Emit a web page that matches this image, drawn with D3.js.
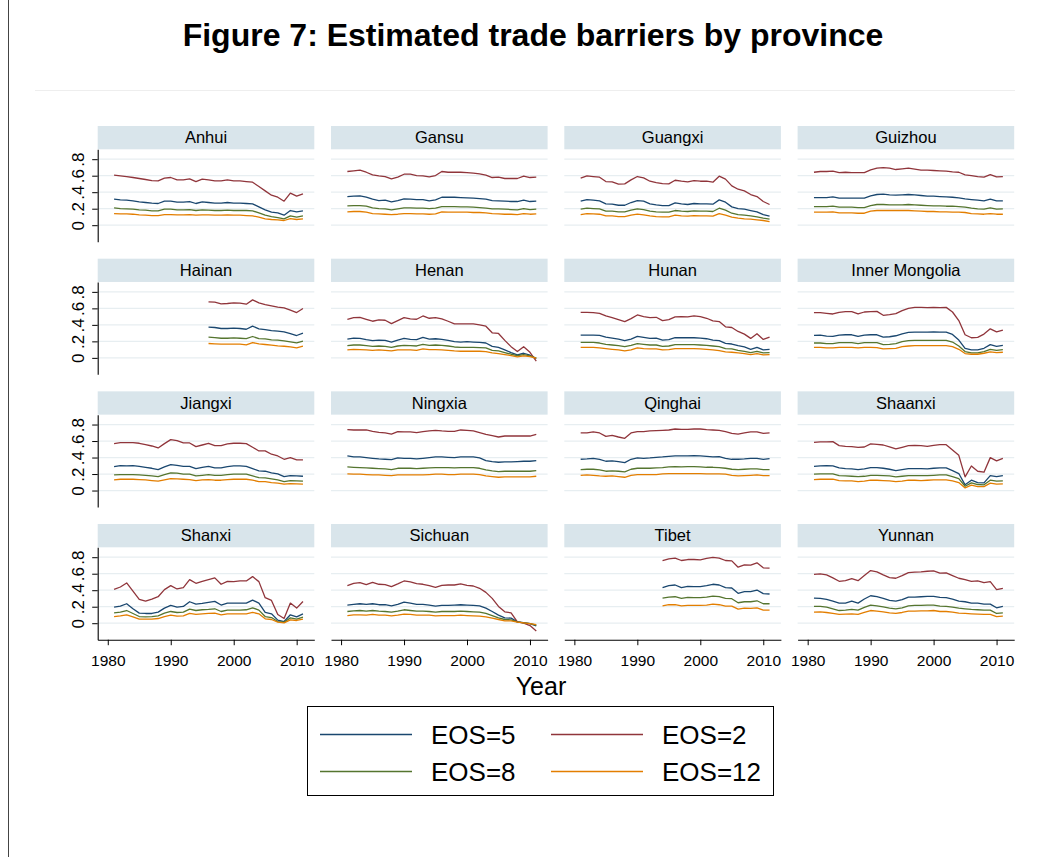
<!DOCTYPE html>
<html>
<head>
<meta charset="utf-8">
<script src="https://cdn.jsdelivr.net/npm/d3@7/dist/d3.min.js"></script>
<style>
  body { margin: 0; background: #fff; }
  svg { display: block; }
  text { font-family: Arial, "Liberation Sans", Helvetica, sans-serif; fill: #000; }
</style>
</head>
<body>
<svg id="chart" width="1049" height="857"></svg>
<script>
// ---- data -------------------------------------------------------------
const years = [1981,1982,1983,1984,1985,1986,1987,1988,1989,1990,1991,1992,1993,1994,1995,1996,
               1997,1998,1999,2000,2001,2002,2003,2004,2005,2006,2007,2008,2009,2010,2011];
const provinces = ["Anhui","Gansu","Guangxi","Guizhou","Hainan","Henan","Hunan","Inner Mongolia",
                   "Jiangxi","Ningxia","Qinghai","Shaanxi","Shanxi","Sichuan","Tibet","Yunnan"];
const seriesLabels = ["EOS=5","EOS=2","EOS=8","EOS=12"];
const xTickValues = [1980,1990,2000,2010];
const yTickValues = [0,0.2,0.4,0.6,0.8];
const yTickLabels = ["0",".2",".4",".6",".8"];

const anhuiEOS2  = [0.606,0.598,0.590,0.578,0.566,0.554,0.541,0.537,0.570,0.578,0.549,0.549,0.562,0.529,0.558,0.549,0.537,0.537,0.549,0.537,0.537,0.529,0.521,0.469,0.416,0.364,0.339,0.291,0.388,0.352,0.380];
const anhuiEOS5  = [0.315,0.307,0.303,0.295,0.283,0.275,0.267,0.263,0.291,0.291,0.279,0.279,0.287,0.263,0.283,0.275,0.267,0.267,0.275,0.267,0.267,0.263,0.259,0.222,0.186,0.158,0.149,0.121,0.178,0.162,0.174];
const anhuiEOS8  = [0.210,0.202,0.198,0.194,0.186,0.182,0.174,0.174,0.194,0.194,0.186,0.186,0.190,0.178,0.186,0.182,0.178,0.178,0.182,0.178,0.178,0.178,0.174,0.149,0.121,0.105,0.093,0.077,0.113,0.097,0.113];
const anhuiEOS12 = [0.141,0.137,0.137,0.133,0.125,0.121,0.117,0.117,0.129,0.129,0.125,0.125,0.129,0.121,0.125,0.125,0.121,0.121,0.125,0.121,0.121,0.117,0.113,0.097,0.077,0.069,0.065,0.057,0.081,0.069,0.077];

const gansuEOS2  = [0.651,0.659,0.667,0.642,0.610,0.598,0.590,0.562,0.582,0.618,0.618,0.602,0.598,0.586,0.602,0.651,0.642,0.642,0.642,0.638,0.630,0.622,0.606,0.578,0.582,0.566,0.566,0.566,0.594,0.578,0.582];
const gansuEOS5  = [0.347,0.352,0.356,0.339,0.315,0.299,0.303,0.283,0.299,0.319,0.315,0.311,0.311,0.295,0.307,0.339,0.339,0.339,0.335,0.331,0.327,0.323,0.315,0.299,0.295,0.291,0.287,0.287,0.303,0.287,0.291];
const gansuEOS8  = [0.234,0.238,0.238,0.230,0.210,0.202,0.198,0.186,0.198,0.210,0.210,0.206,0.206,0.202,0.206,0.226,0.226,0.226,0.222,0.222,0.218,0.214,0.206,0.198,0.198,0.194,0.190,0.186,0.202,0.190,0.194];
const gansuEOS12 = [0.162,0.166,0.166,0.158,0.141,0.137,0.133,0.129,0.133,0.141,0.141,0.137,0.137,0.133,0.137,0.162,0.158,0.158,0.158,0.158,0.154,0.154,0.149,0.141,0.137,0.133,0.133,0.129,0.141,0.133,0.137];

const guangxiEOS2  = [0.570,0.598,0.590,0.582,0.529,0.525,0.497,0.501,0.549,0.590,0.574,0.533,0.517,0.505,0.501,0.545,0.533,0.525,0.541,0.533,0.533,0.521,0.594,0.558,0.477,0.436,0.416,0.372,0.347,0.287,0.251];
const guangxiEOS5  = [0.291,0.311,0.303,0.295,0.259,0.255,0.242,0.242,0.275,0.299,0.291,0.259,0.246,0.238,0.238,0.271,0.259,0.251,0.263,0.259,0.259,0.255,0.307,0.279,0.222,0.202,0.194,0.178,0.162,0.129,0.109];
const guangxiEOS8  = [0.194,0.206,0.202,0.198,0.170,0.170,0.162,0.162,0.182,0.198,0.190,0.170,0.162,0.158,0.158,0.178,0.170,0.166,0.174,0.170,0.170,0.166,0.206,0.182,0.145,0.129,0.121,0.113,0.101,0.085,0.073];
const guangxiEOS12 = [0.129,0.141,0.137,0.133,0.113,0.113,0.105,0.105,0.121,0.133,0.125,0.113,0.105,0.101,0.101,0.121,0.113,0.109,0.117,0.113,0.113,0.109,0.141,0.121,0.097,0.085,0.077,0.073,0.065,0.057,0.044];

const guizhouEOS2  = [0.642,0.651,0.651,0.655,0.638,0.642,0.638,0.638,0.638,0.671,0.691,0.699,0.691,0.675,0.683,0.691,0.679,0.667,0.667,0.663,0.659,0.655,0.646,0.642,0.610,0.602,0.590,0.582,0.614,0.586,0.590];
const guizhouEOS5  = [0.335,0.335,0.335,0.343,0.327,0.327,0.327,0.327,0.327,0.356,0.372,0.376,0.368,0.364,0.368,0.372,0.368,0.360,0.352,0.352,0.347,0.343,0.339,0.331,0.320,0.311,0.303,0.295,0.315,0.295,0.295];
const guizhouEOS8  = [0.226,0.226,0.226,0.230,0.218,0.218,0.218,0.214,0.214,0.238,0.251,0.251,0.246,0.246,0.246,0.251,0.246,0.242,0.238,0.234,0.234,0.230,0.230,0.226,0.218,0.206,0.198,0.194,0.210,0.194,0.198];
const guizhouEOS12 = [0.158,0.158,0.158,0.162,0.149,0.149,0.149,0.145,0.145,0.170,0.178,0.178,0.178,0.178,0.178,0.178,0.174,0.170,0.166,0.166,0.162,0.162,0.158,0.158,0.154,0.141,0.137,0.133,0.141,0.133,0.133];

const hainanEOS2  = [null,null,null,null,null,null,null,null,null,null,null,null,null,null,null,0.679,0.675,0.655,0.659,0.667,0.663,0.651,0.703,0.667,0.646,0.630,0.614,0.606,0.578,0.549,0.598];
const hainanEOS5  = [null,null,null,null,null,null,null,null,null,null,null,null,null,null,null,0.372,0.368,0.356,0.356,0.360,0.356,0.347,0.384,0.352,0.343,0.331,0.323,0.315,0.295,0.271,0.299];
const hainanEOS8  = [null,null,null,null,null,null,null,null,null,null,null,null,null,null,null,0.251,0.246,0.238,0.238,0.242,0.238,0.234,0.259,0.234,0.230,0.218,0.214,0.206,0.194,0.182,0.202];
const hainanEOS12 = [null,null,null,null,null,null,null,null,null,null,null,null,null,null,null,0.174,0.170,0.166,0.166,0.166,0.166,0.158,0.186,0.170,0.162,0.154,0.145,0.141,0.133,0.121,0.141];

const henanEOS2  = [0.468,0.488,0.492,0.468,0.444,0.460,0.456,0.416,0.452,0.488,0.472,0.468,0.508,0.480,0.488,0.472,0.444,0.412,0.412,0.412,0.412,0.400,0.384,0.304,0.296,0.212,0.136,0.076,0.136,0.068,-0.040];
const henanEOS5  = [0.228,0.240,0.236,0.220,0.208,0.216,0.212,0.192,0.216,0.236,0.224,0.220,0.248,0.228,0.232,0.224,0.212,0.196,0.192,0.196,0.192,0.188,0.180,0.140,0.128,0.096,0.064,0.036,0.056,0.032,-0.008];
const henanEOS8  = [0.148,0.156,0.156,0.148,0.140,0.144,0.140,0.128,0.144,0.152,0.148,0.144,0.164,0.152,0.156,0.152,0.144,0.132,0.128,0.128,0.128,0.124,0.120,0.092,0.084,0.064,0.044,0.028,0.040,0.024,-0.004];
const henanEOS12 = [0.096,0.104,0.100,0.096,0.092,0.096,0.092,0.084,0.096,0.096,0.096,0.092,0.108,0.100,0.100,0.096,0.092,0.084,0.080,0.080,0.080,0.080,0.076,0.060,0.052,0.040,0.028,0.012,0.024,0.016,-0.004];

const hunanEOS2  = [0.552,0.552,0.548,0.540,0.508,0.488,0.464,0.440,0.476,0.520,0.500,0.488,0.492,0.452,0.464,0.496,0.500,0.496,0.508,0.500,0.480,0.448,0.440,0.376,0.368,0.320,0.288,0.236,0.292,0.224,0.252];
const hunanEOS5  = [0.276,0.276,0.276,0.272,0.252,0.240,0.228,0.208,0.228,0.260,0.248,0.236,0.240,0.216,0.220,0.244,0.244,0.244,0.244,0.240,0.232,0.216,0.208,0.176,0.168,0.148,0.132,0.104,0.128,0.096,0.104];
const hunanEOS8  = [0.188,0.188,0.188,0.180,0.164,0.156,0.148,0.136,0.152,0.172,0.164,0.156,0.156,0.140,0.144,0.160,0.160,0.160,0.160,0.156,0.152,0.144,0.136,0.112,0.108,0.092,0.080,0.064,0.080,0.060,0.064];
const hunanEOS12 = [0.128,0.128,0.128,0.120,0.112,0.104,0.096,0.084,0.096,0.120,0.112,0.108,0.108,0.096,0.100,0.112,0.112,0.112,0.112,0.108,0.104,0.096,0.088,0.072,0.068,0.060,0.052,0.040,0.052,0.036,0.040];

const innerMongoliaEOS2  = [0.548,0.548,0.540,0.532,0.552,0.560,0.560,0.532,0.556,0.560,0.564,0.516,0.524,0.536,0.572,0.600,0.612,0.612,0.608,0.612,0.608,0.612,0.556,0.452,0.280,0.244,0.248,0.288,0.352,0.316,0.336];
const innerMongoliaEOS5  = [0.272,0.276,0.264,0.260,0.276,0.280,0.280,0.260,0.276,0.280,0.280,0.252,0.256,0.268,0.292,0.308,0.312,0.312,0.312,0.316,0.312,0.312,0.284,0.216,0.116,0.096,0.096,0.116,0.160,0.140,0.152];
const innerMongoliaEOS8  = [0.180,0.180,0.172,0.172,0.184,0.184,0.184,0.172,0.184,0.184,0.184,0.160,0.164,0.172,0.196,0.208,0.212,0.212,0.212,0.212,0.212,0.212,0.192,0.144,0.076,0.060,0.060,0.076,0.104,0.092,0.100];
const innerMongoliaEOS12 = [0.128,0.128,0.120,0.120,0.128,0.128,0.128,0.120,0.128,0.128,0.124,0.108,0.112,0.116,0.136,0.144,0.148,0.148,0.148,0.148,0.148,0.148,0.136,0.104,0.052,0.044,0.044,0.056,0.072,0.064,0.068];

const jiangxiEOS2  = [0.569,0.581,0.581,0.581,0.573,0.556,0.540,0.516,0.569,0.617,0.605,0.577,0.577,0.532,0.552,0.573,0.544,0.544,0.565,0.573,0.573,0.569,0.524,0.480,0.480,0.440,0.419,0.379,0.399,0.371,0.371];
const jiangxiEOS5  = [0.290,0.302,0.298,0.302,0.294,0.282,0.270,0.254,0.286,0.315,0.306,0.294,0.294,0.266,0.282,0.294,0.274,0.274,0.290,0.298,0.298,0.294,0.266,0.238,0.234,0.214,0.202,0.169,0.181,0.177,0.173];
const jiangxiEOS8  = [0.190,0.194,0.194,0.194,0.190,0.185,0.177,0.169,0.194,0.214,0.210,0.198,0.198,0.177,0.185,0.194,0.185,0.185,0.194,0.198,0.198,0.198,0.177,0.157,0.153,0.141,0.129,0.109,0.121,0.117,0.113];
const jiangxiEOS12 = [0.129,0.137,0.137,0.137,0.133,0.129,0.121,0.113,0.129,0.145,0.141,0.137,0.133,0.121,0.129,0.133,0.125,0.125,0.133,0.137,0.137,0.137,0.125,0.109,0.109,0.097,0.089,0.077,0.085,0.081,0.077];

const ningxiaEOS2  = [0.738,0.734,0.734,0.734,0.718,0.706,0.698,0.685,0.714,0.710,0.710,0.702,0.714,0.722,0.730,0.722,0.718,0.718,0.734,0.730,0.722,0.702,0.681,0.665,0.649,0.661,0.661,0.661,0.661,0.661,0.681];
const ningxiaEOS5  = [0.419,0.407,0.407,0.399,0.391,0.383,0.379,0.375,0.395,0.391,0.391,0.383,0.391,0.399,0.407,0.407,0.403,0.399,0.407,0.407,0.407,0.395,0.363,0.351,0.343,0.347,0.347,0.351,0.355,0.355,0.363];
const ningxiaEOS8  = [0.286,0.282,0.278,0.274,0.270,0.266,0.262,0.254,0.270,0.270,0.270,0.266,0.270,0.274,0.278,0.278,0.278,0.274,0.278,0.278,0.278,0.270,0.250,0.238,0.230,0.234,0.234,0.234,0.234,0.234,0.242];
const ningxiaEOS12 = [0.202,0.198,0.198,0.194,0.190,0.190,0.185,0.181,0.190,0.190,0.190,0.190,0.190,0.194,0.198,0.198,0.194,0.194,0.198,0.198,0.198,0.194,0.177,0.169,0.161,0.165,0.165,0.165,0.165,0.165,0.173];

const qinghaiEOS2  = [0.698,0.698,0.710,0.698,0.657,0.669,0.649,0.633,0.698,0.714,0.714,0.722,0.726,0.730,0.734,0.746,0.742,0.742,0.746,0.746,0.738,0.734,0.730,0.714,0.694,0.685,0.698,0.710,0.710,0.694,0.698];
const qinghaiEOS5  = [0.379,0.383,0.391,0.379,0.355,0.359,0.351,0.339,0.379,0.395,0.391,0.395,0.403,0.407,0.415,0.419,0.419,0.419,0.423,0.419,0.415,0.407,0.411,0.391,0.379,0.379,0.383,0.391,0.391,0.379,0.387];
const qinghaiEOS8  = [0.254,0.258,0.258,0.250,0.234,0.238,0.234,0.226,0.258,0.270,0.270,0.270,0.274,0.278,0.286,0.290,0.286,0.290,0.290,0.286,0.282,0.282,0.278,0.270,0.258,0.254,0.258,0.262,0.262,0.254,0.254];
const qinghaiEOS12 = [0.185,0.190,0.185,0.177,0.173,0.177,0.169,0.161,0.185,0.194,0.194,0.194,0.194,0.202,0.206,0.206,0.206,0.206,0.206,0.206,0.202,0.202,0.202,0.198,0.185,0.177,0.181,0.185,0.190,0.181,0.181];

const shaanxiEOS2  = [0.585,0.589,0.589,0.593,0.544,0.536,0.532,0.524,0.528,0.565,0.560,0.552,0.528,0.504,0.524,0.544,0.548,0.544,0.536,0.548,0.556,0.556,0.492,0.427,0.165,0.298,0.234,0.222,0.399,0.359,0.391];
const shaanxiEOS5  = [0.294,0.298,0.302,0.298,0.274,0.266,0.262,0.254,0.262,0.278,0.278,0.270,0.258,0.242,0.254,0.266,0.266,0.266,0.262,0.270,0.274,0.274,0.242,0.206,0.069,0.125,0.097,0.093,0.181,0.169,0.181];
const shaanxiEOS8  = [0.198,0.202,0.202,0.202,0.181,0.177,0.173,0.169,0.173,0.185,0.185,0.181,0.177,0.165,0.173,0.181,0.181,0.181,0.181,0.185,0.190,0.190,0.169,0.145,0.052,0.093,0.073,0.069,0.125,0.113,0.117];
const shaanxiEOS12 = [0.133,0.137,0.137,0.137,0.121,0.117,0.117,0.109,0.113,0.125,0.125,0.121,0.117,0.109,0.113,0.125,0.125,0.121,0.125,0.129,0.129,0.129,0.117,0.097,0.032,0.065,0.048,0.048,0.089,0.077,0.081];

const shanxiEOS2  = [0.410,0.439,0.488,0.390,0.289,0.268,0.293,0.321,0.407,0.455,0.415,0.431,0.528,0.484,0.508,0.528,0.549,0.472,0.508,0.504,0.512,0.512,0.565,0.504,0.309,0.276,0.106,0.057,0.244,0.183,0.264];
const shanxiEOS5  = [0.195,0.207,0.236,0.175,0.122,0.118,0.118,0.134,0.183,0.215,0.195,0.203,0.260,0.232,0.240,0.252,0.264,0.220,0.244,0.244,0.244,0.244,0.280,0.244,0.130,0.114,0.037,0.020,0.102,0.077,0.114];
const shanxiEOS8  = [0.126,0.134,0.154,0.118,0.081,0.077,0.081,0.089,0.122,0.142,0.130,0.134,0.171,0.154,0.163,0.167,0.175,0.142,0.159,0.159,0.159,0.163,0.187,0.159,0.081,0.069,0.020,0.012,0.065,0.049,0.073];
const shanxiEOS12 = [0.081,0.089,0.102,0.077,0.049,0.049,0.049,0.057,0.081,0.098,0.085,0.089,0.118,0.106,0.114,0.118,0.122,0.102,0.114,0.114,0.114,0.114,0.130,0.114,0.053,0.045,0.012,0.004,0.041,0.033,0.049];

const sichuanEOS2  = [0.455,0.484,0.492,0.467,0.496,0.472,0.467,0.443,0.476,0.512,0.500,0.480,0.472,0.455,0.435,0.459,0.463,0.463,0.476,0.459,0.451,0.423,0.374,0.301,0.203,0.138,0.126,0.016,0.000,-0.028,-0.093];
const sichuanEOS5  = [0.220,0.228,0.236,0.228,0.236,0.224,0.224,0.211,0.228,0.256,0.244,0.228,0.228,0.220,0.207,0.215,0.215,0.220,0.224,0.220,0.215,0.211,0.183,0.142,0.098,0.065,0.061,0.016,0.008,-0.004,-0.033];
const sichuanEOS8  = [0.142,0.150,0.154,0.146,0.154,0.146,0.142,0.134,0.146,0.163,0.154,0.146,0.146,0.142,0.134,0.142,0.142,0.142,0.146,0.142,0.138,0.134,0.118,0.093,0.065,0.045,0.041,0.016,0.004,-0.004,-0.024];
const sichuanEOS12 = [0.093,0.102,0.102,0.098,0.106,0.098,0.098,0.089,0.098,0.110,0.106,0.098,0.098,0.098,0.089,0.093,0.093,0.093,0.098,0.093,0.089,0.085,0.077,0.061,0.045,0.028,0.028,0.012,0.004,-0.004,-0.016];

const tibetEOS2  = [null,null,null,null,null,null,null,null,null,null,null,null,null,0.760,0.780,0.789,0.760,0.772,0.772,0.768,0.785,0.797,0.789,0.760,0.756,0.679,0.707,0.703,0.732,0.671,0.667];
const tibetEOS5  = [null,null,null,null,null,null,null,null,null,null,null,null,null,0.431,0.455,0.463,0.431,0.447,0.443,0.443,0.455,0.472,0.463,0.431,0.427,0.362,0.382,0.382,0.402,0.358,0.354];
const tibetEOS8  = [null,null,null,null,null,null,null,null,null,null,null,null,null,0.305,0.317,0.321,0.301,0.313,0.309,0.309,0.317,0.329,0.321,0.301,0.297,0.248,0.260,0.260,0.272,0.236,0.236];
const tibetEOS12 = [null,null,null,null,null,null,null,null,null,null,null,null,null,0.211,0.224,0.224,0.211,0.215,0.215,0.215,0.220,0.232,0.224,0.207,0.207,0.171,0.183,0.179,0.187,0.159,0.159];

const yunnanEOS2  = [0.593,0.598,0.585,0.549,0.508,0.516,0.541,0.516,0.577,0.638,0.622,0.585,0.553,0.545,0.577,0.614,0.618,0.622,0.630,0.634,0.606,0.610,0.577,0.545,0.528,0.508,0.512,0.492,0.504,0.407,0.423];
const yunnanEOS5  = [0.305,0.301,0.289,0.268,0.244,0.244,0.268,0.244,0.293,0.333,0.321,0.301,0.276,0.268,0.285,0.317,0.317,0.321,0.325,0.325,0.313,0.309,0.293,0.268,0.260,0.244,0.244,0.232,0.232,0.187,0.203];
const yunnanEOS8  = [0.203,0.203,0.195,0.175,0.154,0.159,0.167,0.159,0.191,0.220,0.211,0.199,0.183,0.175,0.187,0.211,0.215,0.215,0.220,0.220,0.207,0.203,0.195,0.183,0.175,0.167,0.163,0.159,0.159,0.118,0.126];
const yunnanEOS12 = [0.134,0.138,0.130,0.118,0.106,0.110,0.114,0.106,0.130,0.154,0.146,0.138,0.126,0.118,0.130,0.146,0.146,0.150,0.150,0.154,0.142,0.142,0.134,0.122,0.118,0.114,0.110,0.106,0.106,0.081,0.085];

// series per province, in legend order: EOS=5, EOS=2, EOS=8, EOS=12
const panelSeries = [
  [anhuiEOS5, anhuiEOS2, anhuiEOS8, anhuiEOS12],
  [gansuEOS5, gansuEOS2, gansuEOS8, gansuEOS12],
  [guangxiEOS5, guangxiEOS2, guangxiEOS8, guangxiEOS12],
  [guizhouEOS5, guizhouEOS2, guizhouEOS8, guizhouEOS12],
  [hainanEOS5, hainanEOS2, hainanEOS8, hainanEOS12],
  [henanEOS5, henanEOS2, henanEOS8, henanEOS12],
  [hunanEOS5, hunanEOS2, hunanEOS8, hunanEOS12],
  [innerMongoliaEOS5, innerMongoliaEOS2, innerMongoliaEOS8, innerMongoliaEOS12],
  [jiangxiEOS5, jiangxiEOS2, jiangxiEOS8, jiangxiEOS12],
  [ningxiaEOS5, ningxiaEOS2, ningxiaEOS8, ningxiaEOS12],
  [qinghaiEOS5, qinghaiEOS2, qinghaiEOS8, qinghaiEOS12],
  [shaanxiEOS5, shaanxiEOS2, shaanxiEOS8, shaanxiEOS12],
  [shanxiEOS5, shanxiEOS2, shanxiEOS8, shanxiEOS12],
  [sichuanEOS5, sichuanEOS2, sichuanEOS8, sichuanEOS12],
  [tibetEOS5, tibetEOS2, tibetEOS8, tibetEOS12],
  [yunnanEOS5, yunnanEOS2, yunnanEOS8, yunnanEOS12]
];

// ---- styling / layout ----------------------------------------------------
const seriesColors = ["#1a476f", "#90353b", "#55752f", "#e37e00"];
const stripFill = "#d9e5eb";
const gridColor = "#e7eef1";

const svg = d3.select("#chart");
const nCols = 4;
const panelX0 = 97.7, panelPitchX = 233.3, panelW = 216.6;
const stripY0 = 126, rowPitch = 132.67, stripH = 23.3, plotH = 92.4;

const x = d3.scaleLinear().domain([1978.4, 2012.8]).range([0, panelW]);
const y = d3.scaleLinear().domain([-0.2, 0.92]).range([plotH, 0]);

// outer frame edge on the left
svg.append("line")
  .attr("x1", 8.5).attr("x2", 8.5).attr("y1", 0).attr("y2", 857)
  .attr("stroke", "#444").attr("stroke-width", 1);

// title
svg.append("text")
  .attr("x", 533).attr("y", 46)
  .attr("text-anchor", "middle")
  .style("font-size", "32px").style("font-weight", "bold")
  .text("Figure 7: Estimated trade barriers by province");

// rule under the title
svg.append("line")
  .attr("x1", 35).attr("x2", 1015).attr("y1", 90.5).attr("y2", 90.5)
  .attr("stroke", "#eeeeee").attr("stroke-width", 1);

const line = d3.line()
  .defined(d => d.v !== null)
  .x(d => x(d.year))
  .y(d => y(d.v));

provinces.forEach((name, i) => {
  const col = i % nCols, row = Math.floor(i / nCols);
  const g = svg.append("g")
    .attr("transform", `translate(${panelX0 + col * panelPitchX},${stripY0 + row * rowPitch})`);

  // strip with province name
  g.append("rect")
    .attr("x", 0).attr("y", 0).attr("width", panelW).attr("height", stripH)
    .attr("fill", stripFill);
  g.append("text")
    .attr("x", panelW / 2).attr("y", stripH / 2 + 5.8)
    .attr("text-anchor", "middle")
    .style("font-size", "16.5px")
    .text(name);

  const plot = g.append("g").attr("transform", `translate(0,${stripH})`);

  // horizontal grid
  plot.selectAll("line.grid")
    .data(yTickValues)
    .join("line")
    .attr("class", "grid")
    .attr("x1", 0).attr("x2", panelW)
    .attr("y1", d => y(d)).attr("y2", d => y(d))
    .attr("stroke", gridColor).attr("stroke-width", 1.2);

  // series lines
  panelSeries[i].forEach((vals, s) => {
    const pts = vals.map((v, k) => ({ year: years[k], v: v }));
    plot.append("path")
      .datum(pts)
      .attr("fill", "none")
      .attr("stroke", seriesColors[s])
      .attr("stroke-width", 1.3)
      .attr("stroke-linejoin", "round")
      .attr("d", line);
  });

  // y axis on the first column
  if (col === 0) {
    const ax = plot.append("g")
      .call(d3.axisLeft(y).tickValues(yTickValues)
        .tickFormat((d, k) => yTickLabels[k]).tickSize(5.5).tickSizeOuter(0));
    ax.select(".domain").attr("stroke", "#000").attr("stroke-width", 1.1);
    ax.selectAll(".tick line").attr("stroke", "#000");
    ax.selectAll(".tick text")
      .attr("x", null).attr("dy", null)
      .attr("transform", "translate(-14,0) rotate(-90)")
      .attr("text-anchor", "middle")
      .style("font-size", "17px")
      .style("font-family", "Arial, 'Liberation Sans', sans-serif")
      .attr("fill", "#000");
  }

  // x axis on the bottom row
  if (row === 3) {
    const ax = plot.append("g")
      .attr("transform", `translate(0,${plotH})`)
      .call(d3.axisBottom(x).tickValues(xTickValues)
        .tickFormat(d3.format("d")).tickSize(5.5).tickSizeOuter(0));
    ax.select(".domain").attr("stroke", "#000").attr("stroke-width", 1.1);
    ax.selectAll(".tick line").attr("stroke", "#000");
    ax.selectAll(".tick text")
      .attr("y", 19).attr("dy", "0.5em")
      .style("font-size", "15.5px")
      .style("font-family", "Arial, 'Liberation Sans', sans-serif")
      .attr("fill", "#000");
  }
});

// x axis title
svg.append("text")
  .attr("x", 541).attr("y", 695)
  .attr("text-anchor", "middle")
  .style("font-size", "25px")
  .text("Year");

// legend
const legend = svg.append("g");
legend.append("rect")
  .attr("x", 307.5).attr("y", 706.5).attr("width", 466).attr("height", 89)
  .attr("fill", "#fff").attr("stroke", "#000").attr("stroke-width", 1);

const legendPos = [
  { lx: 320, ty: 734.5 }, { lx: 551, ty: 734.5 },
  { lx: 320, ty: 771.5 }, { lx: 551, ty: 771.5 }
];
seriesLabels.forEach((lab, s) => {
  const p = legendPos[s];
  legend.append("line")
    .attr("x1", p.lx).attr("x2", p.lx + 92)
    .attr("y1", p.ty).attr("y2", p.ty)
    .attr("stroke", seriesColors[s]).attr("stroke-width", 1.5);
  legend.append("text")
    .attr("x", p.lx + 111).attr("y", p.ty + 9.3)
    .style("font-size", "26px")
    .text(lab);
});
</script>
</body>
</html>
